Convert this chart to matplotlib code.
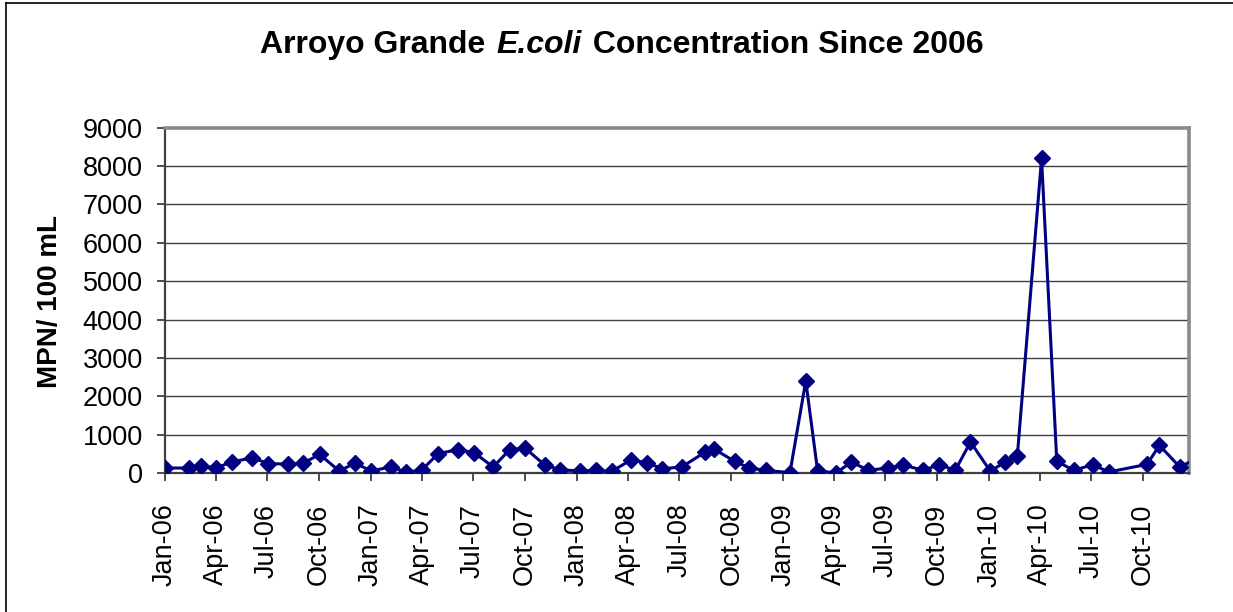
import matplotlib
matplotlib.use('Agg')
import matplotlib.pyplot as plt
import matplotlib.dates as mdates
from matplotlib.lines import Line2D
import pandas as pd

plt.rcParams['font.family'] = ['Liberation Sans', 'DejaVu Sans']

# sampling dates and E. coli results (MPN/100 mL)
dates = ['2006-01-01', '2006-02-13', '2006-03-06', '2006-04-02', '2006-04-30', '2006-06-05',
         '2006-07-03', '2006-08-07', '2006-09-03', '2006-10-02', '2006-11-06', '2006-12-04',
         '2007-01-01', '2007-02-05', '2007-03-05', '2007-04-01', '2007-04-30', '2007-06-04',
         '2007-07-03', '2007-08-06', '2007-09-04', '2007-10-01', '2007-11-06', '2007-12-03',
         '2008-01-07', '2008-02-04', '2008-03-03', '2008-04-07', '2008-05-05', '2008-06-01',
         '2008-07-05', '2008-08-16', '2008-09-01', '2008-10-07', '2008-11-02', '2008-12-01',
         '2009-01-13', '2009-02-10', '2009-03-03', '2009-04-05', '2009-05-02', '2009-06-01',
         '2009-07-05', '2009-08-02', '2009-09-06', '2009-10-05', '2009-11-02', '2009-11-29',
         '2010-01-03', '2010-01-30', '2010-02-20', '2010-04-04', '2010-05-01', '2010-05-31',
         '2010-07-04', '2010-08-01', '2010-10-08', '2010-10-30', '2010-12-05', '2011-01-10']
ecoli = [130, 130, 174, 140, 287, 400,
         243, 235, 252, 487, 52, 261,
         52, 157, 26, 70, 505, 609,
         530, 157, 609, 652, 200, 87,
         52, 70, 44, 348, 261, 113,
         157, 548, 618, 304, 130, 70,
         10, 2400, 52, 5, 287, 70,
         130, 210, 70, 217, 70, 809,
         52, 287, 435, 8200, 304, 70,
         217, 26, 226, 722, 157, 420]

yticks = [0, 1000, 2000, 3000, 4000, 5000, 6000, 7000, 8000, 9000]

dates = pd.to_datetime(dates)

fig = plt.figure(figsize=(12.33, 6.12), dpi=100)
ax = fig.add_axes([0.1338, 0.2271, 0.9646 - 0.1338, 0.7913 - 0.2271])

ax.plot(dates, ecoli, color='#000080', lw=2.2, marker='D', markersize=8,
        markerfacecolor='#000080', markeredgecolor='#000080', zorder=3)

ax.set_ylim(0, 9000)
ax.set_yticks(yticks)
ax.set_xlim(pd.Timestamp('2006-01-01'), pd.Timestamp('2010-12-22'))
ax.xaxis.set_major_locator(mdates.MonthLocator(bymonth=[1, 4, 7, 10]))
ax.xaxis.set_major_formatter(mdates.DateFormatter('%b-%y'))

for v in yticks[1:-1]:
    ax.axhline(v, color='#404040', lw=1, zorder=1)

ax.tick_params(axis='both', labelsize=19.5, direction='out', length=6, width=1.2,
               color='#303030')
ax.tick_params(axis='x', labelrotation=90, pad=16)
ax.tick_params(axis='y', pad=10)

for s in ['top', 'right']:
    ax.spines[s].set_color('#8a8a8a')
    ax.spines[s].set_linewidth(2.6)
for s in ['left', 'bottom']:
    ax.spines[s].set_color('#404040')
    ax.spines[s].set_linewidth(1.6)

fig.text(50 / 1233, 1 - 301 / 612, 'MPN/ 100 mL', rotation=90, fontsize=20,
         fontweight='bold', ha='center', va='center')

# title with the species name in italics
parts = [('Arroyo Grande ', 'normal'), ('E.coli', 'italic'),
         (' Concentration Since 2006', 'normal')]
renderer = fig.canvas.get_renderer()
texts = []
for s, style in parts:
    t = fig.text(0, 1 - 45 / 612, s, fontsize=23, fontweight='bold', style=style,
                 ha='left', va='center')
    texts.append(t)
widths = [t.get_window_extent(renderer).width for t in texts]
x = 620 - sum(widths) / 2
for t, w in zip(texts, widths):
    t.set_x(x / 1233)
    x += w + 2

# chart area border
fig.add_artist(Line2D([6 / 1233, 6 / 1233], [0, 1 - 3 / 612], color='black', lw=1.2))
fig.add_artist(Line2D([6 / 1233, 1], [1 - 3 / 612, 1 - 3 / 612], color='black', lw=1.2))

fig.savefig('out.png', dpi=100)
